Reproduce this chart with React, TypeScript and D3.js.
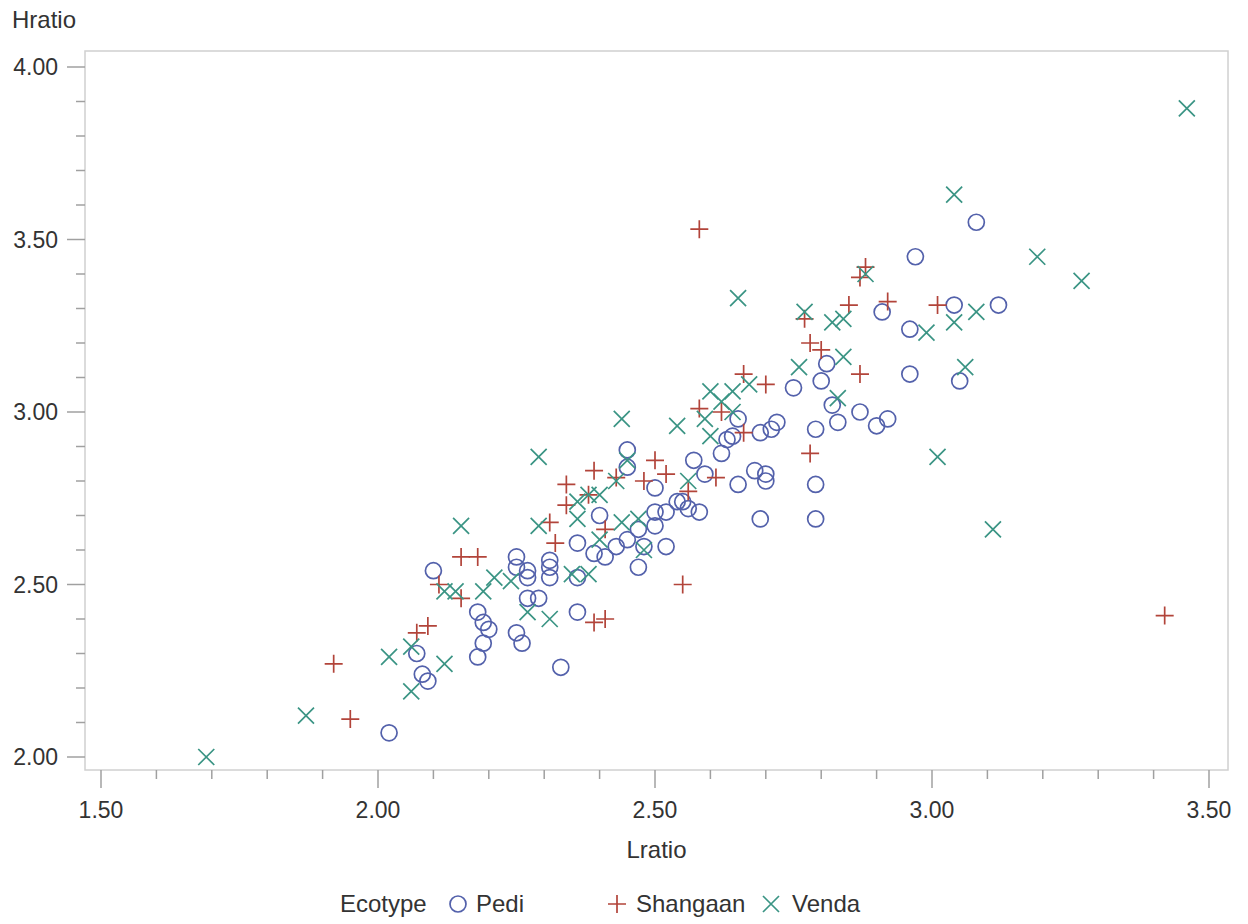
import { useEffect, useRef } from 'react';
import * as d3 from 'd3';

// Lratio, Hratio pairs
const pedi: [number, number][] = [
  [2.02, 2.07], [2.07, 2.30], [2.08, 2.24], [2.09, 2.22], [2.10, 2.54], [2.18, 2.42], [2.19, 2.39],
  [2.20, 2.37], [2.19, 2.33], [2.18, 2.29], [2.25, 2.58], [2.25, 2.55], [2.27, 2.54], [2.27, 2.52],
  [2.27, 2.46], [2.29, 2.46], [2.25, 2.36], [2.26, 2.33],
  [2.33, 2.26], [2.36, 2.42], [2.45, 2.89], [2.45, 2.84], [2.50, 2.78], [2.57, 2.86], [2.50, 2.71],
  [2.52, 2.71], [2.54, 2.74], [2.55, 2.74], [2.56, 2.72], [2.58, 2.71], [2.50, 2.67], [2.40, 2.70],
  [2.47, 2.66], [2.45, 2.63], [2.43, 2.61], [2.41, 2.58], [2.39, 2.59], [2.36, 2.62], [2.48, 2.61],
  [2.52, 2.61], [2.47, 2.55], [2.31, 2.57], [2.31, 2.55], [2.31, 2.52], [2.36, 2.52],
  [2.81, 3.14], [2.75, 3.07], [2.80, 3.09], [2.82, 3.02], [2.83, 2.97], [2.79, 2.95], [2.72, 2.97],
  [2.71, 2.95], [2.69, 2.94], [2.65, 2.98], [2.64, 2.93], [2.63, 2.92], [2.62, 2.88], [2.59, 2.82],
  [2.68, 2.83], [2.70, 2.82], [2.70, 2.80], [2.65, 2.79], [2.79, 2.79], [2.69, 2.69], [2.79, 2.69],
  [2.87, 3.00], [2.92, 2.98], [2.90, 2.96], [2.96, 3.24], [2.96, 3.11], [3.05, 3.09], [3.04, 3.31],
  [3.12, 3.31], [2.91, 3.29], [2.97, 3.45], [3.08, 3.55],
];
const shangaan: [number, number][] = [
  [1.92, 2.27], [1.95, 2.11], [2.07, 2.36], [2.09, 2.38], [2.11, 2.50], [2.15, 2.46], [2.15, 2.58],
  [2.18, 2.58], [2.31, 2.68], [2.32, 2.62], [2.34, 2.79], [2.34, 2.73], [2.38, 2.76], [2.39, 2.83],
  [2.43, 2.81], [2.48, 2.80], [2.50, 2.86], [2.52, 2.82], [2.56, 2.77], [2.41, 2.66], [2.39, 2.39],
  [2.41, 2.40], [2.55, 2.50], [2.58, 3.53],
  [2.58, 3.01], [2.62, 3.00], [2.66, 3.11], [2.70, 3.08], [2.66, 2.94], [2.78, 2.88], [2.61, 2.81],
  [2.87, 3.39], [2.88, 3.42], [2.85, 3.31], [2.92, 3.32], [3.01, 3.31], [2.77, 3.27], [2.78, 3.20],
  [2.80, 3.18], [2.87, 3.11], [3.42, 2.41],
];
const venda: [number, number][] = [
  [1.69, 2.00], [1.87, 2.12], [2.02, 2.29], [2.06, 2.19], [2.06, 2.32], [2.12, 2.27], [2.15, 2.67],
  [2.29, 2.67], [2.29, 2.87], [2.12, 2.48], [2.14, 2.48], [2.19, 2.48], [2.21, 2.52], [2.24, 2.51],
  [2.27, 2.42], [2.31, 2.40], [2.44, 2.98], [2.54, 2.96], [2.45, 2.86], [2.43, 2.80], [2.56, 2.80],
  [2.38, 2.76], [2.40, 2.76], [2.36, 2.74], [2.36, 2.69], [2.44, 2.68], [2.47, 2.69], [2.40, 2.63],
  [2.48, 2.60], [2.35, 2.53], [2.38, 2.53],
  [2.76, 3.13], [2.60, 3.06], [2.64, 3.06], [2.67, 3.08], [2.62, 3.03], [2.64, 3.00], [2.59, 2.98],
  [2.60, 2.93], [2.83, 3.04], [2.65, 3.33], [2.77, 3.29], [2.82, 3.26], [2.84, 3.27], [2.84, 3.16],
  [3.08, 3.29], [3.04, 3.26], [2.99, 3.23], [3.06, 3.13], [3.01, 2.87], [2.88, 3.40], [3.11, 2.66],
  [3.04, 3.63], [3.19, 3.45], [3.27, 3.38], [3.46, 3.88],
];

const xTicks = [1.5, 2.0, 2.5, 3.0, 3.5];
const yTicks = [2.0, 2.5, 3.0, 3.5, 4.0];
const series = [
  { name: 'Pedi', data: pedi, color: '#5361ab', shape: 'circle' },
  { name: 'Shangaan', data: shangaan, color: '#b2443a', shape: 'plus' },
  { name: 'Venda', data: venda, color: '#3a9484', shape: 'x' },
];

const W = 1248, H = 924;
const FONT = 'Liberation Sans, Arial, sans-serif';

function markerPath(shape: string) {
  if (shape === 'plus') return 'M-9,0H9M0,-9V9';
  if (shape === 'x') return 'M-8,-8L8,8M-8,8L8,-8';
  return d3.arc()({ innerRadius: 0, outerRadius: 8, startAngle: 0, endAngle: 2 * Math.PI } as any) as string;
}

function Scatter() {
  const ref = useRef<SVGSVGElement | null>(null);
  useEffect(() => {
    const svg = d3.select(ref.current!);
    svg.selectAll('*').remove();
    const frame = { left: 85, right: 1228, top: 51, bottom: 770 };
    const x = d3.scaleLinear().domain([1.5, 3.5]).range([101, 1209]);
    const y = d3.scaleLinear().domain([2, 4]).range([757, 67]);

    svg.append('rect').attr('x', frame.left).attr('y', frame.top)
      .attr('width', frame.right - frame.left).attr('height', frame.bottom - frame.top)
      .attr('fill', 'none').attr('stroke', '#d0d0d0').attr('stroke-width', 1.5);

    // bottom axis
    const minorX = d3.range(15, 36).map((d) => d / 10);
    const gx = svg.append('g').attr('transform', `translate(0,${frame.bottom})`);
    gx.selectAll('line').data(minorX).enter().append('line')
      .attr('x1', (d) => x(d)).attr('x2', (d) => x(d)).attr('y1', 0)
      .attr('y2', (d) => (xTicks.some((t) => Math.abs(t - d) < 1e-6) ? 18 : 9))
      .attr('stroke', '#a0a0a0').attr('stroke-width', 1.5);
    gx.selectAll('text').data(xTicks).enter().append('text')
      .attr('x', (d) => x(d)).attr('y', 48).attr('text-anchor', 'middle')
      .attr('font-family', FONT).attr('font-size', 23).attr('fill', '#333')
      .text((d) => d3.format('.2f')(d));

    // left axis
    const minorY = d3.range(20, 41).map((d) => d / 10);
    const gy = svg.append('g').attr('transform', `translate(${frame.left},0)`);
    gy.selectAll('line').data(minorY).enter().append('line')
      .attr('y1', (d) => y(d)).attr('y2', (d) => y(d)).attr('x1', 0)
      .attr('x2', (d) => (yTicks.some((t) => Math.abs(t - d) < 1e-6) ? -18 : -9))
      .attr('stroke', '#a0a0a0').attr('stroke-width', 1.5);
    gy.selectAll('text').data(yTicks).enter().append('text')
      .attr('x', -27).attr('y', (d) => y(d) + 8).attr('text-anchor', 'end')
      .attr('font-family', FONT).attr('font-size', 23).attr('fill', '#333')
      .text((d) => d3.format('.2f')(d));

    svg.append('text').attr('x', 12).attr('y', 28).attr('font-family', FONT).attr('font-size', 24)
      .attr('fill', '#333').text('Hratio');
    svg.append('text').attr('x', (frame.left + frame.right) / 2).attr('y', 858).attr('text-anchor', 'middle')
      .attr('font-family', FONT).attr('font-size', 24).attr('fill', '#333').text('Lratio');

    const pts = svg.append('g');
    series.forEach((s) => {
      pts.selectAll(null).data(s.data).enter().append('path')
        .attr('transform', (d) => `translate(${x(d[0])},${y(d[1])})`)
        .attr('d', s.shape === 'circle' ? 'M8,0A8,8 0 1,1 -8,0A8,8 0 1,1 8,0Z' : markerPath(s.shape))
        .attr('fill', 'none').attr('stroke', s.color).attr('stroke-width', 1.7);
    });

    // legend
    const lg = svg.append('g').attr('font-family', FONT).attr('font-size', 24).attr('fill', '#333');
    lg.append('text').attr('x', 340).attr('y', 912).text('Ecotype');
    const legendPos = [
      { mx: 458, tx: 476 },
      { mx: 617, tx: 636 },
      { mx: 771, tx: 792 },
    ];
    series.forEach((s, i) => {
      lg.append('path').attr('transform', `translate(${legendPos[i].mx},904)`)
        .attr('d', s.shape === 'circle' ? 'M8,0A8,8 0 1,1 -8,0A8,8 0 1,1 8,0Z' : markerPath(s.shape))
        .attr('fill', 'none').attr('stroke', s.color).attr('stroke-width', 1.7);
      lg.append('text').attr('x', legendPos[i].tx).attr('y', 912).text(s.name);
    });
  }, []);
  return <svg ref={ref} width={W} height={H} style={{ display: 'block' }} />;
}

export default function App() {
  return (
    <div style={{ position: 'absolute', left: 0, top: 0, background: '#fff' }}>
      <Scatter />
    </div>
  );
}
